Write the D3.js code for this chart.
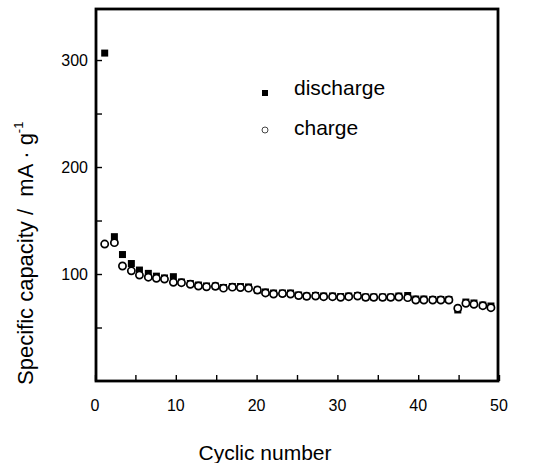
<!DOCTYPE html>
<html>
<head>
<meta charset="utf-8">
<script src="https://cdn.jsdelivr.net/npm/d3@7"></script>
<style>
  body { margin: 0; background: #fff; }
  text { font-family: Arial, "Liberation Sans", sans-serif; fill: #000; }
</style>
</head>
<body>
<script>
// cycle positions (they sit a bit right of the integer ticks)
const cycles = [1.2, 2.4, 3.4, 4.5, 5.5, 6.6, 7.6, 8.6, 9.7, 10.7, 11.8, 12.8, 13.8, 14.9, 15.9, 17.0,
  18.0, 19.0, 20.1, 21.1, 22.1, 23.2, 24.2, 25.2, 26.2, 27.3, 28.3, 29.4, 30.4, 31.4, 32.5, 33.5,
  34.5, 35.6, 36.6, 37.6, 38.7, 39.7, 40.7, 41.8, 42.8, 43.8, 44.9, 45.9, 46.9, 48.0, 49.0];

const discharge = [306.5, 134.9, 118.2, 109.8, 103.7, 100.6, 98, 96.3, 97.5, 92.5, 91.1, 89.7, 88.8,
  88.8, 87.4, 88.3, 88.3, 87.9, 85, 83.2, 82.2, 82.2, 82.2, 80.4, 79.4, 79.9, 79.4, 79.4, 78.9, 79.4,
  79.9, 78.5, 78.5, 78.5, 78.5, 79.4, 79.9, 76.6, 76.6, 76.2, 76.2, 76.2, 66.4, 73.8, 72.9, 71, 70.1];

const charge = [128, 129.3, 107.5, 103, 99, 97, 96, 95.3, 92.2, 91.9, 90.4, 88.8, 88, 88.5, 86.8,
  87.7, 87.3, 86.8, 85, 82.3, 81.3, 81.7, 81.3, 79.8, 79.2, 79.4, 78.8, 78.8, 78.2, 78.8, 79.4, 78.2,
  78.2, 78.2, 78.2, 78.5, 77.9, 75.7, 75.7, 75.7, 75.7, 75.7, 68, 72.6, 71.7, 70.4, 68.5];

const xTicks = [0, 5, 10, 15, 20, 25, 30, 35, 40, 45, 50];
const xLabels = [0, 10, 20, 30, 40, 50];
const yTicks = [50, 100, 150, 200, 250, 300];
const yLabels = [100, 200, 300];

const width = 537;
const height = 463;
const plotLeft = 96, plotRight = 498, plotTop = 9, plotBottom = 381;

const x = d3.scaleLinear().domain([0, 50]).range([95, 499]);
const y = d3.scaleLinear().domain([0, 347.7]).range([381, 9]);

const svg = d3.select('body').append('svg')
  .attr('width', width)
  .attr('height', height);

// x axis, ticks point inward
const gx = svg.append('g')
  .attr('transform', `translate(0, ${plotBottom})`)
  .call(d3.axisBottom(x).tickValues(xTicks).tickSize(-6).tickFormat(''));
gx.select('.domain').remove();
gx.selectAll('.tick line').attr('stroke-width', 1.4);

svg.append('g').selectAll('text')
  .data(xLabels)
  .enter()
  .append('text')
  .attr('x', d => x(d))
  .attr('y', 411)
  .attr('text-anchor', 'middle')
  .style('font-size', '16px')
  .text(d => d);

// y axis
const gy = svg.append('g')
  .attr('transform', `translate(${plotLeft}, 0)`)
  .call(d3.axisLeft(y).tickValues(yTicks).tickSize(-6).tickFormat(''));
gy.select('.domain').remove();
gy.selectAll('.tick line').attr('stroke-width', 1.4);

svg.append('g').selectAll('text')
  .data(yLabels)
  .enter()
  .append('text')
  .attr('x', 88)
  .attr('y', d => y(d) + 6)
  .attr('text-anchor', 'end')
  .style('font-size', '16px')
  .text(d => d);

// frame
svg.append('rect')
  .attr('x', plotLeft)
  .attr('y', plotTop)
  .attr('width', plotRight - plotLeft)
  .attr('height', plotBottom - plotTop)
  .attr('fill', 'none')
  .attr('stroke', '#000')
  .attr('stroke-width', 2.8);

// discharge squares under the charge circles
const sq = 7;
svg.append('g').selectAll('rect')
  .data(discharge)
  .enter()
  .append('rect')
  .attr('x', (d, i) => x(cycles[i]) - sq / 2)
  .attr('y', d => y(d) - sq / 2)
  .attr('width', sq)
  .attr('height', sq)
  .attr('fill', '#000');

svg.append('g').selectAll('circle')
  .data(charge)
  .enter()
  .append('circle')
  .attr('cx', (d, i) => x(cycles[i]))
  .attr('cy', d => y(d))
  .attr('r', 3.6)
  .attr('fill', '#fff')
  .attr('stroke', '#000')
  .attr('stroke-width', 1.7);

// legend
svg.append('rect')
  .attr('x', 262).attr('y', 90).attr('width', 6).attr('height', 6)
  .attr('fill', '#000');
svg.append('circle')
  .attr('cx', 265).attr('cy', 130).attr('r', 3)
  .attr('fill', '#fff').attr('stroke', '#444').attr('stroke-width', 1);

svg.append('text')
  .attr('x', 294).attr('y', 95)
  .style('font-size', '21px')
  .text('discharge');
svg.append('text')
  .attr('x', 294).attr('y', 135)
  .style('font-size', '21px')
  .text('charge');

// axis titles
svg.append('text')
  .attr('x', 265).attr('y', 460)
  .attr('text-anchor', 'middle')
  .style('font-size', '21px')
  .text('Cyclic number');

const yt = svg.append('text')
  .attr('transform', 'translate(33, 385) rotate(-90)')
  .attr('text-anchor', 'start')
  .style('font-size', '22px');
yt.append('tspan').text('Specific capacity /\u00a0\u00a0mA \u00b7 g');
yt.append('tspan').attr('dy', -10).style('font-size', '13px').text('-1');
</script>
</body>
</html>
